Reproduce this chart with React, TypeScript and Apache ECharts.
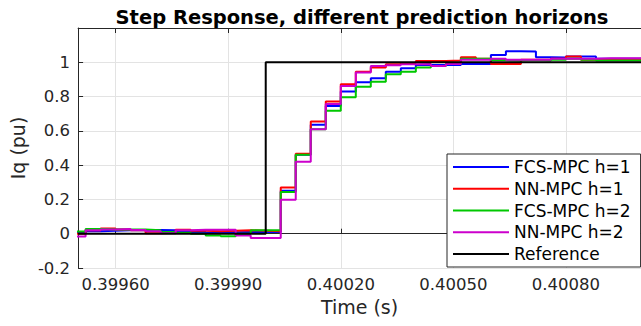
import React, { useEffect, useRef } from "react";
import * as echarts from "echarts";

const sampleTimes = [
  0.39948, 0.39952, 0.39956, 0.3996, 0.39964, 0.39968, 0.39972, 0.39976, 0.3998, 0.39984,
  0.39988, 0.39992, 0.39996, 0.4, 0.40004, 0.40008, 0.40012, 0.40016, 0.4002, 0.40024,
  0.40028, 0.40032, 0.40036, 0.4004, 0.40044, 0.40048, 0.40052, 0.40056, 0.4006, 0.40064,
  0.40068, 0.40072, 0.40076, 0.4008, 0.40084, 0.40088, 0.40092, 0.40096, 0.401, 0.40104,
];

const fcsH1 = [
  0.005, 0.015, 0.018, 0.02, 0.02, 0.022, 0.02, 0.015, 0.01, 0.005, 0.008, 0.01, 0.012, 0.01,
  0.25, 0.46, 0.635, 0.745, 0.829, 0.883, 0.907, 0.945, 0.965, 0.984, 0.984, 0.984, 0.99, 0.99,
  1.042, 1.065, 1.063, 1.03, 1.028, 1.034, 1.034, 1.02, 1.02, 1.02, 1.02, 1.02,
];
const nnH1 = [
  0.0, 0.02, 0.03, 0.025, 0.02, 0.003, 0.005, 0.023, 0.018, 0.015, 0.018, 0.02, 0.018, 0.015,
  0.27, 0.466, 0.654, 0.771, 0.872, 0.945, 0.97, 0.988, 0.996, 1.008, 1.008, 1.01, 1.03, 1.02,
  0.99, 0.99, 1.015, 1.015, 1.02, 1.034, 1.015, 1.018, 1.018, 1.015, 1.015, 1.015,
];
const fcsH2 = [
  0.013, 0.027, 0.025, 0.025, 0.024, 0.02, 0.01, 0.005, 0.0, -0.01, -0.015, 0.0, 0.02, 0.02,
  0.243, 0.46, 0.61, 0.718, 0.796, 0.858, 0.887, 0.93, 0.945, 0.97, 0.978, 0.99, 1.02, 1.02,
  1.013, 1.01, 1.013, 1.01, 1.015, 1.02, 1.015, 1.01, 1.01, 1.01, 1.01, 1.01,
];
const nnH2 = [
  -0.016, 0.02, 0.025, 0.028, 0.022, 0.015, 0.003, 0.02, 0.023, 0.023, 0.023, -0.01, -0.025, -0.025,
  0.198, 0.42, 0.61, 0.757, 0.862, 0.94, 0.978, 0.983, 0.988, 0.99, 0.978, 0.99, 1.015, 1.015,
  1.02, 1.015, 1.015, 1.015, 1.02, 1.02, 1.02, 1.024, 1.024, 1.024, 1.024, 1.024,
];

const refTimes = [0.3995, 0.4, 0.401];
const refValues = [0, 1, 1];

const xTickValues = [0.3996, 0.3999, 0.4002, 0.4005, 0.4008];

const seriesNames = ["FCS-MPC h=1", "NN-MPC h=1", "FCS-MPC h=2", "NN-MPC h=2", "Reference"];
const seriesColors = ["#0000ff", "#ff0000", "#00c800", "#cc00cc", "#000000"];

const FONT = "DejaVu Sans";
const AX = "#262626";

export default function App() {
  const ref = useRef<HTMLDivElement>(null);
  useEffect(() => {
    if (!ref.current) return;
    const chart = echarts.init(ref.current, undefined, { renderer: "svg" });
    const pair = (xs: number[], ys: number[]) => xs.map((x, i) => [x, ys[i]]);
    const datasets = [
      pair(sampleTimes, fcsH1),
      pair(sampleTimes, nnH1),
      pair(sampleTimes, fcsH2),
      pair(sampleTimes, nnH2),
      pair(refTimes, refValues),
    ];
    const xCommon = {
      type: "value" as const,
      min: 0.3995,
      max: 0.401,
      axisLine: { show: true, lineStyle: { color: AX, width: 1 } },
      axisTick: { show: true, inside: true, length: 5, customValues: xTickValues, lineStyle: { color: AX } },
    };
    chart.setOption({
      animation: false,
      backgroundColor: "#ffffff",
      textStyle: { fontFamily: FONT },
      title: {
        text: "Step Response, different prediction horizons",
        left: 357,
        top: 2,
        textAlign: "center",
        textStyle: { fontFamily: FONT, fontWeight: "bold", fontSize: 19.5, color: "#000" },
      },
      grid: { left: 73, top: 28, width: 572, height: 240, containLabel: false },
      legend: {
        orient: "vertical",
        left: 447,
        top: 154,
        icon: "rect",
        itemWidth: 56,
        itemHeight: 2,
        itemGap: 1.75,
        padding: [3, 10, 3, 6],
        backgroundColor: "#ffffff",
        borderColor: AX,
        borderWidth: 1,
        borderRadius: 0,
        data: seriesNames,
        textStyle: { fontFamily: FONT, fontSize: 17, color: "#000", lineHeight: 20 },
      },
      xAxis: [
        {
          ...xCommon,
          position: "bottom",
          name: "Time (s)",
          nameLocation: "middle",
          nameGap: 28,
          nameTextStyle: { fontFamily: FONT, fontSize: 19, color: AX },
          axisLabel: {
            customValues: xTickValues,
            fontFamily: FONT,
            fontSize: 16.5,
            color: AX,
            margin: 8,
            formatter: (v: number) => v.toFixed(5),
          },
          splitLine: { show: true, lineStyle: { color: "#e3e3e3", width: 1 } },
        },
        {
          ...xCommon,
          position: "top",
          axisLabel: { show: false, customValues: xTickValues },
          splitLine: { show: false },
        },
      ],
      yAxis: {
        type: "value",
        min: -0.2,
        max: 1.2,
        interval: 0.2,
        name: "Iq (pu)",
        nameLocation: "middle",
        nameGap: 48,
        nameTextStyle: { fontFamily: FONT, fontSize: 19, color: AX },
        axisLine: { show: true, lineStyle: { color: AX, width: 1 } },
        axisTick: { show: true, inside: true, length: 5, lineStyle: { color: AX } },
        axisLabel: {
          fontFamily: FONT,
          fontSize: 16.5,
          color: AX,
          margin: 8,
          formatter: (v: number) => (Math.abs(v - 1.2) < 1e-9 ? "" : String(Math.round(v * 10) / 10)),
        },
        splitLine: { show: true, lineStyle: { color: "#e3e3e3", width: 1 } },
      },
      series: datasets.map((d, i) => ({
        name: seriesNames[i],
        type: "line",
        step: "end",
        data: d,
        symbol: "none",
        color: seriesColors[i],
        lineStyle: { color: seriesColors[i], width: 2 },
        z: 2 + i,
      })),
    });
    return () => chart.dispose();
  }, []);
  return <div ref={ref} style={{ width: 641, height: 326, position: "absolute", left: 0, top: 0 }} />;
}
